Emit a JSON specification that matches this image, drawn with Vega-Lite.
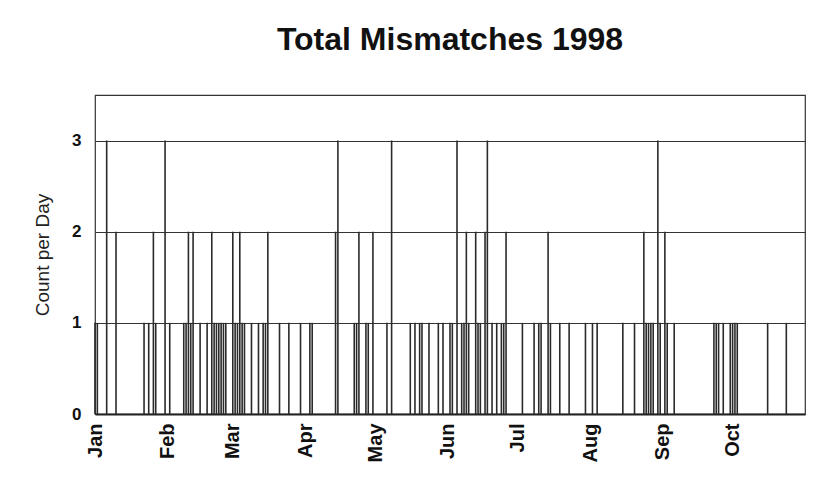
{
  "$schema": "https://vega.github.io/schema/vega-lite/v6.json",
  "width": 710,
  "height": 319,
  "autosize": "none",
  "padding": {"left": 95, "top": 95, "right": 14, "bottom": 65},
  "background": "white",
  "title": {"text": "Total Mismatches 1998", "font": "Liberation Sans", "fontSize": 32, "fontWeight": "bold", "color": "#111", "anchor": "middle", "offset": 38},
  "config": {"view": {"stroke": "#333", "strokeWidth": 1.2}},
  "data": {"values": [
    {"date": "1998-01-01", "count": 1},
    {"date": "1998-01-02", "count": 1},
    {"date": "1998-01-06", "count": 3},
    {"date": "1998-01-10", "count": 2},
    {"date": "1998-01-22", "count": 1},
    {"date": "1998-01-24", "count": 1},
    {"date": "1998-01-26", "count": 2},
    {"date": "1998-01-27", "count": 1},
    {"date": "1998-01-31", "count": 3},
    {"date": "1998-02-02", "count": 1},
    {"date": "1998-02-08", "count": 1},
    {"date": "1998-02-09", "count": 1},
    {"date": "1998-02-10", "count": 2},
    {"date": "1998-02-11", "count": 1},
    {"date": "1998-02-12", "count": 2},
    {"date": "1998-02-15", "count": 1},
    {"date": "1998-02-18", "count": 1},
    {"date": "1998-02-20", "count": 2},
    {"date": "1998-02-21", "count": 1},
    {"date": "1998-02-22", "count": 1},
    {"date": "1998-02-23", "count": 1},
    {"date": "1998-02-24", "count": 1},
    {"date": "1998-02-25", "count": 1},
    {"date": "1998-02-26", "count": 1},
    {"date": "1998-03-01", "count": 2},
    {"date": "1998-03-02", "count": 1},
    {"date": "1998-03-03", "count": 1},
    {"date": "1998-03-04", "count": 2},
    {"date": "1998-03-05", "count": 1},
    {"date": "1998-03-06", "count": 1},
    {"date": "1998-03-09", "count": 1},
    {"date": "1998-03-12", "count": 1},
    {"date": "1998-03-14", "count": 1},
    {"date": "1998-03-15", "count": 1},
    {"date": "1998-03-16", "count": 2},
    {"date": "1998-03-21", "count": 1},
    {"date": "1998-03-25", "count": 1},
    {"date": "1998-03-30", "count": 1},
    {"date": "1998-04-03", "count": 1},
    {"date": "1998-04-04", "count": 1},
    {"date": "1998-04-14", "count": 2},
    {"date": "1998-04-15", "count": 3},
    {"date": "1998-04-22", "count": 1},
    {"date": "1998-04-23", "count": 1},
    {"date": "1998-04-24", "count": 2},
    {"date": "1998-04-27", "count": 1},
    {"date": "1998-04-28", "count": 1},
    {"date": "1998-04-30", "count": 2},
    {"date": "1998-05-06", "count": 1},
    {"date": "1998-05-08", "count": 3},
    {"date": "1998-05-16", "count": 1},
    {"date": "1998-05-18", "count": 1},
    {"date": "1998-05-20", "count": 1},
    {"date": "1998-05-21", "count": 1},
    {"date": "1998-05-24", "count": 1},
    {"date": "1998-05-28", "count": 1},
    {"date": "1998-05-30", "count": 1},
    {"date": "1998-06-02", "count": 1},
    {"date": "1998-06-03", "count": 1},
    {"date": "1998-06-05", "count": 3},
    {"date": "1998-06-07", "count": 1},
    {"date": "1998-06-08", "count": 1},
    {"date": "1998-06-09", "count": 2},
    {"date": "1998-06-10", "count": 1},
    {"date": "1998-06-13", "count": 2},
    {"date": "1998-06-14", "count": 1},
    {"date": "1998-06-15", "count": 1},
    {"date": "1998-06-17", "count": 2},
    {"date": "1998-06-18", "count": 3},
    {"date": "1998-06-20", "count": 1},
    {"date": "1998-06-22", "count": 1},
    {"date": "1998-06-24", "count": 1},
    {"date": "1998-06-25", "count": 1},
    {"date": "1998-06-26", "count": 2},
    {"date": "1998-07-03", "count": 1},
    {"date": "1998-07-08", "count": 1},
    {"date": "1998-07-10", "count": 1},
    {"date": "1998-07-11", "count": 1},
    {"date": "1998-07-14", "count": 2},
    {"date": "1998-07-15", "count": 1},
    {"date": "1998-07-19", "count": 1},
    {"date": "1998-07-23", "count": 1},
    {"date": "1998-07-30", "count": 1},
    {"date": "1998-08-02", "count": 1},
    {"date": "1998-08-04", "count": 1},
    {"date": "1998-08-15", "count": 1},
    {"date": "1998-08-20", "count": 1},
    {"date": "1998-08-24", "count": 2},
    {"date": "1998-08-25", "count": 1},
    {"date": "1998-08-26", "count": 1},
    {"date": "1998-08-27", "count": 1},
    {"date": "1998-08-28", "count": 1},
    {"date": "1998-08-30", "count": 3},
    {"date": "1998-08-31", "count": 1},
    {"date": "1998-09-02", "count": 2},
    {"date": "1998-09-03", "count": 1},
    {"date": "1998-09-06", "count": 1},
    {"date": "1998-09-23", "count": 1},
    {"date": "1998-09-24", "count": 1},
    {"date": "1998-09-25", "count": 1},
    {"date": "1998-09-27", "count": 1},
    {"date": "1998-09-30", "count": 1},
    {"date": "1998-10-01", "count": 1},
    {"date": "1998-10-02", "count": 1},
    {"date": "1998-10-03", "count": 1},
    {"date": "1998-10-16", "count": 1},
    {"date": "1998-10-24", "count": 1}
  ]},
  "mark": {"type": "rule", "color": "#2a2a2a", "strokeWidth": 1.6},
  "encoding": {
    "x": {
      "field": "date",
      "type": "temporal",
      "scale": {"type": "utc", "domain": [{"year": 1998, "month": 1, "date": 1, "utc": true}, {"year": 1998, "month": 11, "date": 1, "utc": true}]},
      "axis": {
        "title": null,
        "values": [
          {"year": 1998, "month": 1, "date": 1, "utc": true},
          {"year": 1998, "month": 2, "date": 1, "utc": true},
          {"year": 1998, "month": 3, "date": 1, "utc": true},
          {"year": 1998, "month": 4, "date": 1, "utc": true},
          {"year": 1998, "month": 5, "date": 1, "utc": true},
          {"year": 1998, "month": 6, "date": 1, "utc": true},
          {"year": 1998, "month": 7, "date": 1, "utc": true},
          {"year": 1998, "month": 8, "date": 1, "utc": true},
          {"year": 1998, "month": 9, "date": 1, "utc": true},
          {"year": 1998, "month": 10, "date": 1, "utc": true}
        ],
        "labelExpr": "utcFormat(datum.value, '%b')",
        "labelAngle": 270,
        "labelAlign": "right",
        "labelBaseline": "middle",
        "labelFont": "Liberation Sans",
        "labelFontSize": 20,
        "labelFontWeight": "bold",
        "labelColor": "#111",
        "labelPadding": 9,
        "labelFlush": false,
        "labelOverlap": false,
        "ticks": false,
        "grid": false,
        "domainColor": "#222",
        "domainWidth": 2
      }
    },
    "y": {
      "field": "count",
      "type": "quantitative",
      "scale": {"domain": [0, 3.5], "nice": false},
      "axis": {
        "title": "Count per Day",
        "values": [0, 1, 2, 3],
        "grid": true,
        "gridColor": "#333",
        "gridWidth": 1,
        "gridOpacity": 1,
        "ticks": false,
        "domain": false,
        "labelFont": "Liberation Sans",
        "labelFontSize": 17,
        "labelFontWeight": "bold",
        "labelColor": "#111",
        "labelPadding": 14,
        "titleFont": "Liberation Sans",
        "titleFontSize": 19,
        "titleFontWeight": "normal",
        "titleColor": "#222",
        "titlePadding": 19
      }
    },
    "y2": {"datum": 0}
  }
}
